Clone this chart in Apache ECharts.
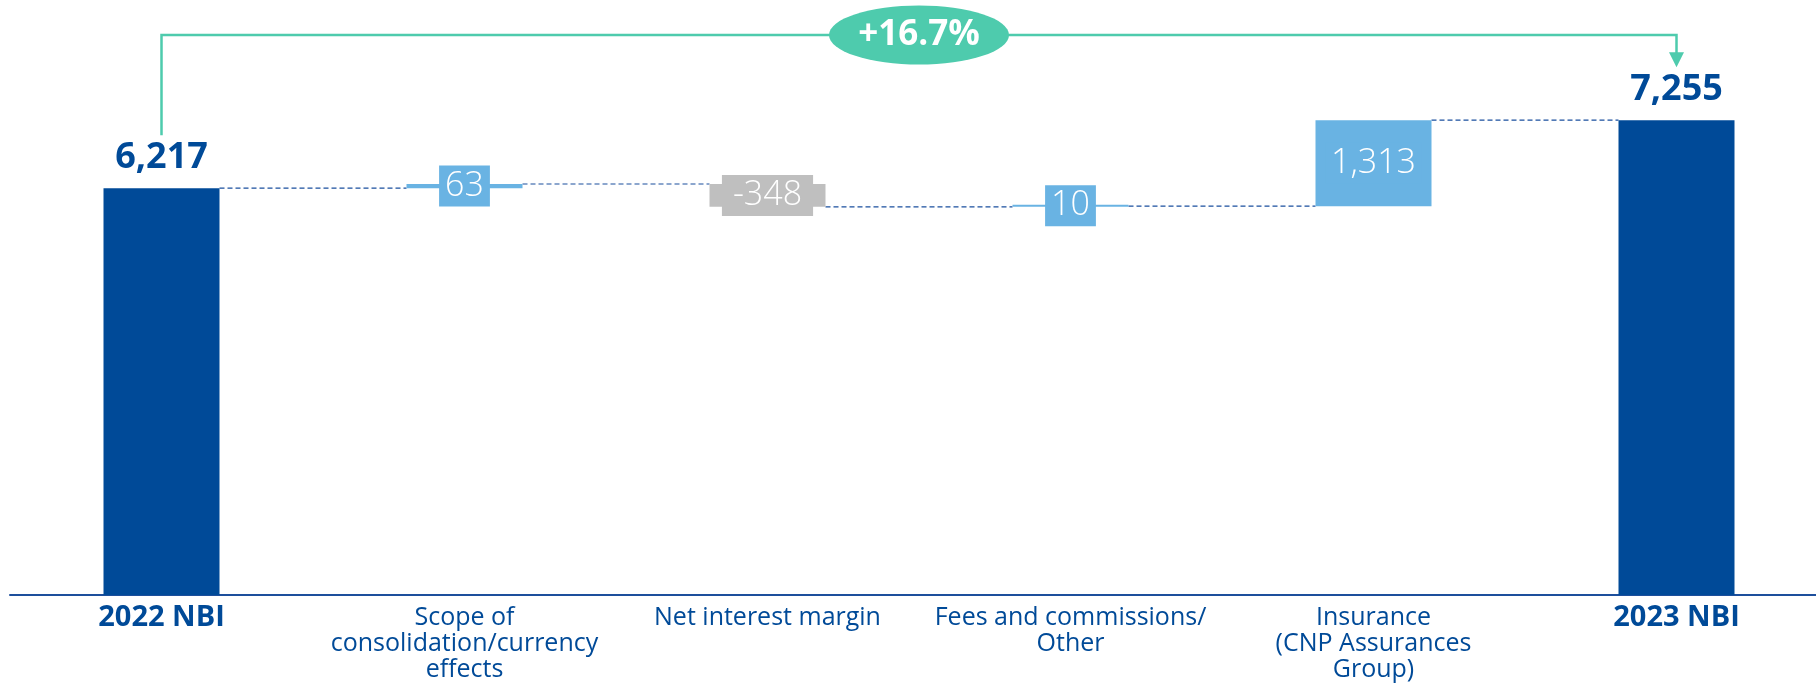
<!DOCTYPE html>
<html>
<head>
<meta charset="utf-8">
<script src="https://cdn.jsdelivr.net/npm/echarts@6/dist/echarts.min.js"></script>
<style>
  html, body { margin: 0; padding: 0; background: #fff; }
  #main { width: 1816px; height: 683px; }
</style>
</head>
<body>
<div id="main"></div>
<script>
const categories = [
  '2022 NBI',
  'Scope of\nconsolidation/currency\neffects',
  'Net interest margin',
  'Fees and commissions/\nOther',
  'Insurance\n(CNP Assurances\nGroup)',
  '2023 NBI'
]
const changes = [6217, 63, -348, 10, 1313, 7255]
const isTotal = [true, false, false, false, false, true]
const growthLabel = '+16.7%'

const DARK = '#004a98'
const LIGHT = '#69b3e3'
const GREY = '#bfbfbf'
const GREEN = '#4ecbad'
const FONT = 'Open Sans'

// running levels for the waterfall
const bases = []
const heights = []
const levels = []
let level = 0
changes.forEach((v, i) => {
  if (isTotal[i]) {
    bases.push(0)
    heights.push(v)
    level = v
  } else {
    bases.push(Math.min(level, level + v))
    heights.push(Math.abs(v))
    level = level + v
  }
  levels.push(level)
})

const fmt = (v) => v.toLocaleString('en-US')

const valueData = heights.map((h, i) => {
  const total = isTotal[i]
  const color = total ? DARK : (changes[i] < 0 ? GREY : LIGHT)
  return {
    value: h,
    itemStyle: { color: color },
    label: total ? {
      show: true,
      position: 'top',
      distance: 12,
      color: DARK,
      fontSize: 36,
      fontWeight: 'bold',
      fontFamily: FONT,
      formatter: () => fmt(changes[i])
    } : {
      show: true,
      position: 'inside',
      color: '#fff',
      fontSize: 34,
      fontWeight: 300,
      fontFamily: FONT,
      backgroundColor: color,
      padding: changes[i] < 0 ? [2, 11] : [2, 6],
      lineHeight: 37,
      formatter: () => fmt(changes[i])
    }
  }
})

const chart = echarts.init(document.getElementById('main'))

const option = {
  animation: false,
  grid: { left: 10, right: -12, top: 6, bottom: 88, containLabel: false, outerBoundsMode: 'none' },
  xAxis: {
    type: 'category',
    data: categories,
    axisLine: { lineStyle: { color: '#1d4f9c', width: 2 } },
    axisTick: { show: false },
    axisLabel: {
      interval: 0,
      margin: 10,
      color: DARK,
      fontSize: 25,
      lineHeight: 26,
      fontFamily: FONT,
      formatter: (value, idx) => (isTotal[idx] ? '{b|' + value + '}' : value),
      rich: {
        b: { fontSize: 29, fontWeight: 'bold', color: DARK, fontFamily: FONT }
      }
    }
  },
  yAxis: {
    type: 'value',
    show: false,
    min: 0,
    max: 9000,
    splitLine: { show: false }
  },
  series: [
    {
      // dashed connectors between bars
      type: 'custom',
      silent: true,
      z: 1,
      data: levels.slice(0, -1).map((v, i) => [i, v]),
      renderItem: (params, api) => {
        const i = api.value(0)
        const v = api.value(1)
        const a = api.coord([i, v])
        const b = api.coord([i + 1, v])
        return {
          type: 'line',
          shape: { x1: a[0] + 58, y1: a[1], x2: b[0] - 58, y2: b[1] },
          style: { stroke: '#1a4f9e', lineWidth: 1.2, lineDash: [5, 3] }
        }
      }
    },
    {
      name: 'base',
      type: 'bar',
      stack: 'wf',
      silent: true,
      barWidth: 116,
      itemStyle: { color: 'transparent' },
      data: bases
    },
    {
      name: 'value',
      type: 'bar',
      stack: 'wf',
      barWidth: 116,
      barMinHeight: 2,
      z: 3,
      data: valueData
    },
    {
      // growth bracket from first to last total
      type: 'custom',
      silent: true,
      z: 10,
      data: [[0, 5]],
      renderItem: (params, api) => {
        const first = api.coord([0, changes[0]])
        const last = api.coord([categories.length - 1, changes[changes.length - 1]])
        const m1 = api.coord([2, 0])
        const m2 = api.coord([3, 0])
        const topY = api.coord([0, 8557])[1]
        const startY = first[1] - 53
        const tipY = last[1] - 53
        const midX = (m1[0] + m2[0]) / 2
        return {
          type: 'group',
          children: [
            {
              type: 'polyline',
              shape: { points: [[first[0], startY], [first[0], topY], [last[0], topY], [last[0], tipY - 14]] },
              style: { stroke: GREEN, lineWidth: 2.5, fill: null }
            },
            {
              type: 'polygon',
              shape: { points: [[last[0] - 7.5, tipY - 15], [last[0] + 7.5, tipY - 15], [last[0], tipY]] },
              style: { fill: GREEN }
            },
            {
              type: 'circle',
              x: midX,
              y: topY,
              scaleX: 90 / 29.5,
              shape: { cx: 0, cy: 0, r: 29.5 },
              style: { fill: GREEN }
            },
            {
              type: 'text',
              x: midX,
              y: topY,
              style: {
                text: growthLabel,
                fill: '#fff',
                fontSize: 35,
                fontWeight: 'bold',
                fontFamily: FONT,
                align: 'center',
                verticalAlign: 'middle'
              }
            }
          ]
        }
      }
    }
  ]
}

chart.setOption(option)
</script>
</body>
</html>
